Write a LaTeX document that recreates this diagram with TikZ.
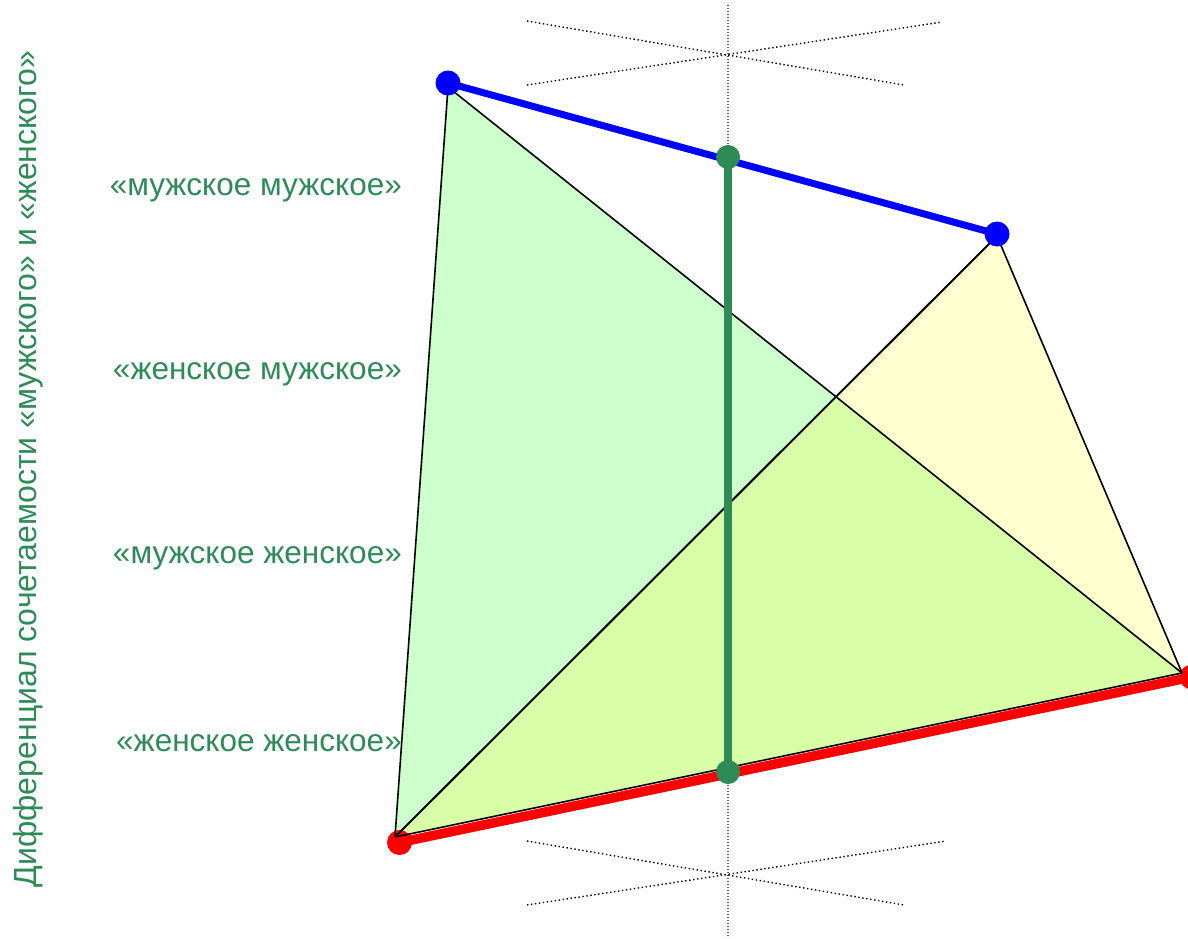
\documentclass[tikz,border=0pt]{standalone}
\usepackage{fontspec}
\setmainfont{Liberation Sans}
\definecolor{sgreen}{RGB}{46,139,87}
\definecolor{lgreen}{RGB}{204,255,204}
\definecolor{lyellow}{RGB}{255,255,208}
\definecolor{overlap}{RGB}{216,255,168}
\definecolor{dotgrey}{RGB}{90,90,90}
\begin{document}
\begin{tikzpicture}[x=1pt,y=-1pt,
  lbl/.style={text=sgreen,font=\fontsize{31.5}{34}\selectfont,anchor=east,inner sep=0pt},
  edge/.style={black,line width=1.6pt},
  dotline/.style={black,line width=1.4pt,dash pattern=on 1.4pt off 2.6pt},
  vdot/.style={dotgrey,line width=1.2pt,dash pattern=on 1.2pt off 1.8pt},
  bdot/.style={circle,fill=blue,minimum size=25pt,inner sep=0pt},
  rdot/.style={circle,fill=red,minimum size=25pt,inner sep=0pt},
  gdot/.style={circle,fill=sgreen,minimum size=24pt,inner sep=0pt}]
\useasboundingbox (0,0) rectangle (1188,938);
\clip (0,0) rectangle (1188,938);
% triangle vertices
\coordinate (A) at (448,87);
\coordinate (B) at (395,837);
\coordinate (C) at (1182,673);
\coordinate (D) at (997,236);
\coordinate (P) at (intersection of A--C and B--D);
% fills
\fill[lgreen] (A) -- (B) -- (P) -- cycle;
\fill[lyellow] (D) -- (P) -- (C) -- cycle;
\fill[overlap] (B) -- (P) -- (C) -- cycle;
% dotted guides
\coordinate (v1) at (728,5);
\coordinate (v2) at (728,938);
\draw[vdot] (v1) -- (v2);
\coordinate (t1) at (527,21); \coordinate (t2) at (904,85);
\coordinate (t3) at (527,85); \coordinate (t4) at (942,22);
\draw[dotline] (t1) -- (t2);
\draw[dotline] (t3) -- (t4);
\coordinate (u1) at (527,841); \coordinate (u2) at (904,905);
\coordinate (u3) at (527,905); \coordinate (u4) at (946,841);
\draw[dotline] (u1) -- (u2);
\draw[dotline] (u3) -- (u4);
% red line
\node[rdot] (R1) at (399.5,842.5) {};
\node[rdot] (R2) at (1192,677) {};
\draw[red,line width=9.5pt] (R1.center) -- (R2.center);
% edges
\draw[edge] (A) -- (B);
\draw[edge] (A) -- (C);
\draw[edge] (D) -- (C);
\draw[edge] (B) -- (C);
\draw[black,line width=2pt] (B) -- (D);
% blue line
\node[bdot] (B1) at (448,83) {};
\node[bdot] (B2) at (997,234) {};
\draw[blue,line width=7pt] (B1.center) -- (B2.center);
% green line
\node[gdot] (G1) at (728,157) {};
\node[gdot] (G2) at (728,772) {};
\draw[sgreen,line width=8pt] (G1.center) -- (G2.center);
% labels
\node[lbl] (L1) at (402,190) {«мужское мужское»};
\node[lbl] (L2) at (402,374) {«женское мужское»};
\node[lbl] (L3) at (402,558) {«мужское женское»};
\node[lbl] (L4) at (402,743) {«женское женское»};
\node[text=sgreen,font=\fontsize{32}{35}\selectfont,rotate=90,inner sep=0pt] (T) at (28,469) {Дифференциал сочетаемости «мужского» и «женского»};
\end{tikzpicture}
\end{document}
